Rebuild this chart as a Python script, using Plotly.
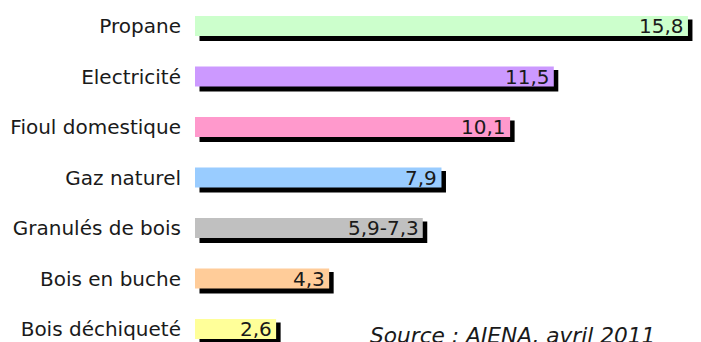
import plotly.graph_objects as go

categories = ["Propane", "Electricité", "Fioul domestique", "Gaz naturel",
              "Granulés de bois", "Bois en buche", "Bois déchiqueté"]
values = [15.8, 11.5, 10.1, 7.9, 7.3, 4.3, 2.6]
value_labels = ["15,8", "11,5", "10,1", "7,9", "5,9-7,3", "4,3", "2,6"]
colors = ["#CCFFCC", "#CC99FF", "#FF99CC", "#99CCFF", "#C0C0C0", "#FFCC99", "#FFFF99"]
source_text = "Source : AJENA, avril 2011"

FONT = "DejaVu Sans, Verdana, sans-serif"
W, H = 701, 342
L, R = 195, 0
PX_PER_UNIT = 31.2
XMAX = (W - L - R) / PX_PER_UNIT
ROW_PX = 50.5
FIRST_CENTER = 26
y_top = -FIRST_CENTER / ROW_PX
y_bot = (H - FIRST_CENTER) / ROW_PX

bar_w = 20 / ROW_PX
sh_dx = 4.5 / PX_PER_UNIT
sh_dy = 3.5 / ROW_PX
sh_w = 21.5 / ROW_PX

fig = go.Figure()
# shadows
fig.add_trace(go.Bar(
    y=categories, x=values, base=[sh_dx] * len(values), orientation="h",
    width=sh_w, offset=-bar_w / 2 + sh_dy,
    marker=dict(color="black", line=dict(width=0)),
    hoverinfo="skip", showlegend=False,
))
# bars
fig.add_trace(go.Bar(
    y=categories, x=values, orientation="h",
    width=bar_w, offset=-bar_w / 2,
    marker=dict(color=colors, line=dict(width=0)),
    showlegend=False,
))
fig.update_layout(barmode="overlay")

for c, v, t in zip(categories, values, value_labels):
    fig.add_annotation(x=v, y=c, xref="x", yref="y", text=t, showarrow=False,
                       xanchor="right", yanchor="middle", xshift=-2, yshift=0,
                       font=dict(family=FONT, size=20, color="#1a1a1a"))

fig.add_annotation(x=(368 - L) / (W - L - R), y=0, xref="paper", yref="paper",
                   text=f"<i>{source_text}</i>", showarrow=False,
                   xanchor="left", yanchor="middle", yshift=7,
                   font=dict(family=FONT, size=21.7, color="#1a1a1a"))

fig.update_layout(
    width=W, height=H,
    margin=dict(l=L, r=R, t=0, b=0, pad=0),
    paper_bgcolor="white", plot_bgcolor="white",
    xaxis=dict(range=[0, XMAX], visible=False, fixedrange=True),
    yaxis=dict(range=[y_bot, y_top], showgrid=False, zeroline=False,
               showline=False, ticks="", ticklabelstandoff=13,
               tickfont=dict(family=FONT, size=20, color="#1a1a1a")),
    font=dict(family=FONT),
)
fig.write_html("out.html")
